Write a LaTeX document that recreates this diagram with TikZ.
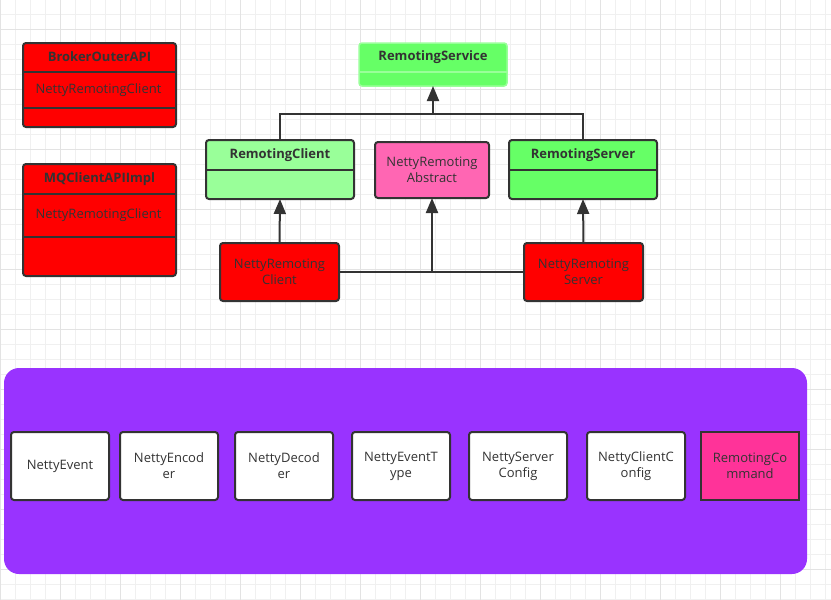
\documentclass[tikz,border=0pt]{standalone}
\usepackage{fontspec}
\setmainfont{Open Sans}
\usepackage{tikz}
\usetikzlibrary{arrows.meta,calc}

\definecolor{edgegray}{HTML}{333333}
\definecolor{gridminor}{HTML}{F0F0F0}
\definecolor{gridmajor}{HTML}{E3E3E3}
\definecolor{implred}{HTML}{FF0000}
\definecolor{ifacegreen}{HTML}{66FF66}
\definecolor{lightgreen}{HTML}{99FF99}
\definecolor{abstractpink}{HTML}{FF66B3}
\definecolor{corepurple}{HTML}{9933FF}
\definecolor{cmdpink}{HTML}{FF3399}

\tikzset{
  classbox/.style={draw=edgegray, line width=2pt, rounded corners=3pt, inner sep=0pt, outer sep=0pt},
  plainbox/.style={draw=edgegray, line width=2pt, rounded corners=3pt, inner sep=0pt, outer sep=0pt,
    align=center, text=edgegray, font=\fontsize{13}{16}\selectfont},
  classtitle/.style={font=\fontsize{13}{16}\selectfont\bfseries, text=edgegray, inner sep=0pt},
  classfield/.style={font=\fontsize{13}{16}\selectfont, text=edgegray, inner sep=0pt},
  divider/.style={edgegray, line width=2pt},
  link/.style={edgegray, line width=2pt},
  inherit/.style={edgegray, line width=2pt, -{Triangle[length=15pt,width=12pt]}}
}

\begin{document}
\begin{tikzpicture}[x=1pt,y=-1pt]
        \useasboundingbox (0,0) rectangle (831,600);
        % background grid
        \begin{scope}[x=1pt,y=1pt]
        \draw[gridminor, line width=1pt, step=15, shift={(0.5,0.5)}] (-15,-615) grid (840,15);
        \draw[gridmajor, line width=1pt, step=60, shift={(0.5,30.5)}] (-60,-660) grid (840,60);
        \end{scope}

        % clients of the remoting layer
        \node[classbox, fill=implred, minimum width=153, minimum height=84] (brokerapi) at (99.5,85) {};
        \node[classtitle] (brokertitle) at (99.5,57) {BrokerOuterAPI};
        \node[classfield] (brokerfield) at (98.5,90) {NettyRemotingClient};
        \draw[divider] ($(brokerapi.north west)+(0,29)$) -- ($(brokerapi.north east)+(0,29)$);
        \draw[divider] ($(brokerapi.north west)+(0,65)$) -- ($(brokerapi.north east)+(0,65)$);

        \node[classbox, fill=implred, minimum width=153, minimum height=112] (mqapi) at (99.5,220) {};
        \node[classtitle] (mqtitle) at (99.5,179) {MQClientAPIImpl};
        \node[classfield] (mqfield) at (98.5,215) {NettyRemotingClient};
        \draw[divider] ($(mqapi.north west)+(0,30)$) -- ($(mqapi.north east)+(0,30)$);
        \draw[divider] ($(mqapi.north west)+(0,73)$) -- ($(mqapi.north east)+(0,73)$);

        % interfaces
        \node[classbox, draw=lightgreen, line width=1.5pt, fill=ifacegreen, minimum width=148, minimum height=43] (rservice) at (433,64.5) {};
        \node[classtitle] (rservicetitle) at (433,57) {RemotingService};
        \draw[lightgreen, line width=1.5pt] ($(rservice.north west)+(0,29)$) -- ($(rservice.north east)+(0,29)$);

        \node[classbox, fill=lightgreen, minimum width=148, minimum height=59] (rclient) at (280,169.5) {};
        \node[classtitle] (rclienttitle) at (280,155.5) {RemotingClient};
        \draw[divider] ($(rclient.north west)+(0,30)$) -- ($(rclient.north east)+(0,30)$);

        \node[classbox, fill=ifacegreen, minimum width=148, minimum height=59] (rserver) at (583,169.5) {};
        \node[classtitle] (rservertitle) at (583,155.5) {RemotingServer};
        \draw[divider] ($(rserver.north west)+(0,30)$) -- ($(rserver.north east)+(0,30)$);

        \node[plainbox, fill=abstractpink, minimum width=114, minimum height=56] (abstract) at (432,170) {NettyRemoting\\Abstract};

        % implementations
        \node[plainbox, fill=implred, minimum width=119, minimum height=58] (nrclient) at (279.5,272) {NettyRemoting\\Client};
        \node[plainbox, fill=implred, minimum width=119, minimum height=58] (nrserver) at (583.5,272) {NettyRemoting\\Server};

        % inheritance
        \coordinate (join) at (433,114);
        \draw[link] (rclient.north) |- (join) -| (rserver.north);
        \draw[inherit] (join) -- (rservice.south);
        \draw[inherit] (nrclient.north) -- (rclient.south);
        \draw[inherit] (nrserver.north) -- (rserver.south);
        \draw[link] (nrclient.east) -- (nrserver.west);
        \draw[inherit] (nrclient.east -| abstract.south) -- (abstract.south);

        % common classes
        \node[fill=corepurple, rounded corners=15pt, minimum width=803, minimum height=206, inner sep=0pt] (core) at (405.5,471) {};
        \node[plainbox, fill=white, minimum width=98, minimum height=68] (event) at (60,466) {NettyEvent};
        \node[plainbox, fill=white, minimum width=98, minimum height=68] (encoder) at (169,466) {NettyEncod\\er};
        \node[plainbox, fill=white, minimum width=98, minimum height=68] (decoder) at (284,466) {NettyDecod\\er};
        \node[plainbox, fill=white, minimum width=98, minimum height=68] (eventtype) at (401,466) {NettyEventT\\ype};
        \node[plainbox, fill=white, minimum width=98, minimum height=68] (serverconfig) at (518,466) {NettyServer\\Config};
        \node[plainbox, fill=white, minimum width=98, minimum height=68] (clientconfig) at (636,466) {NettyClientC\\onfig};
        \node[plainbox, fill=cmdpink, rounded corners=0pt, minimum width=98, minimum height=68] (command) at (750,466) {RemotingCo\\mmand};
    \end{tikzpicture}
\end{document}
